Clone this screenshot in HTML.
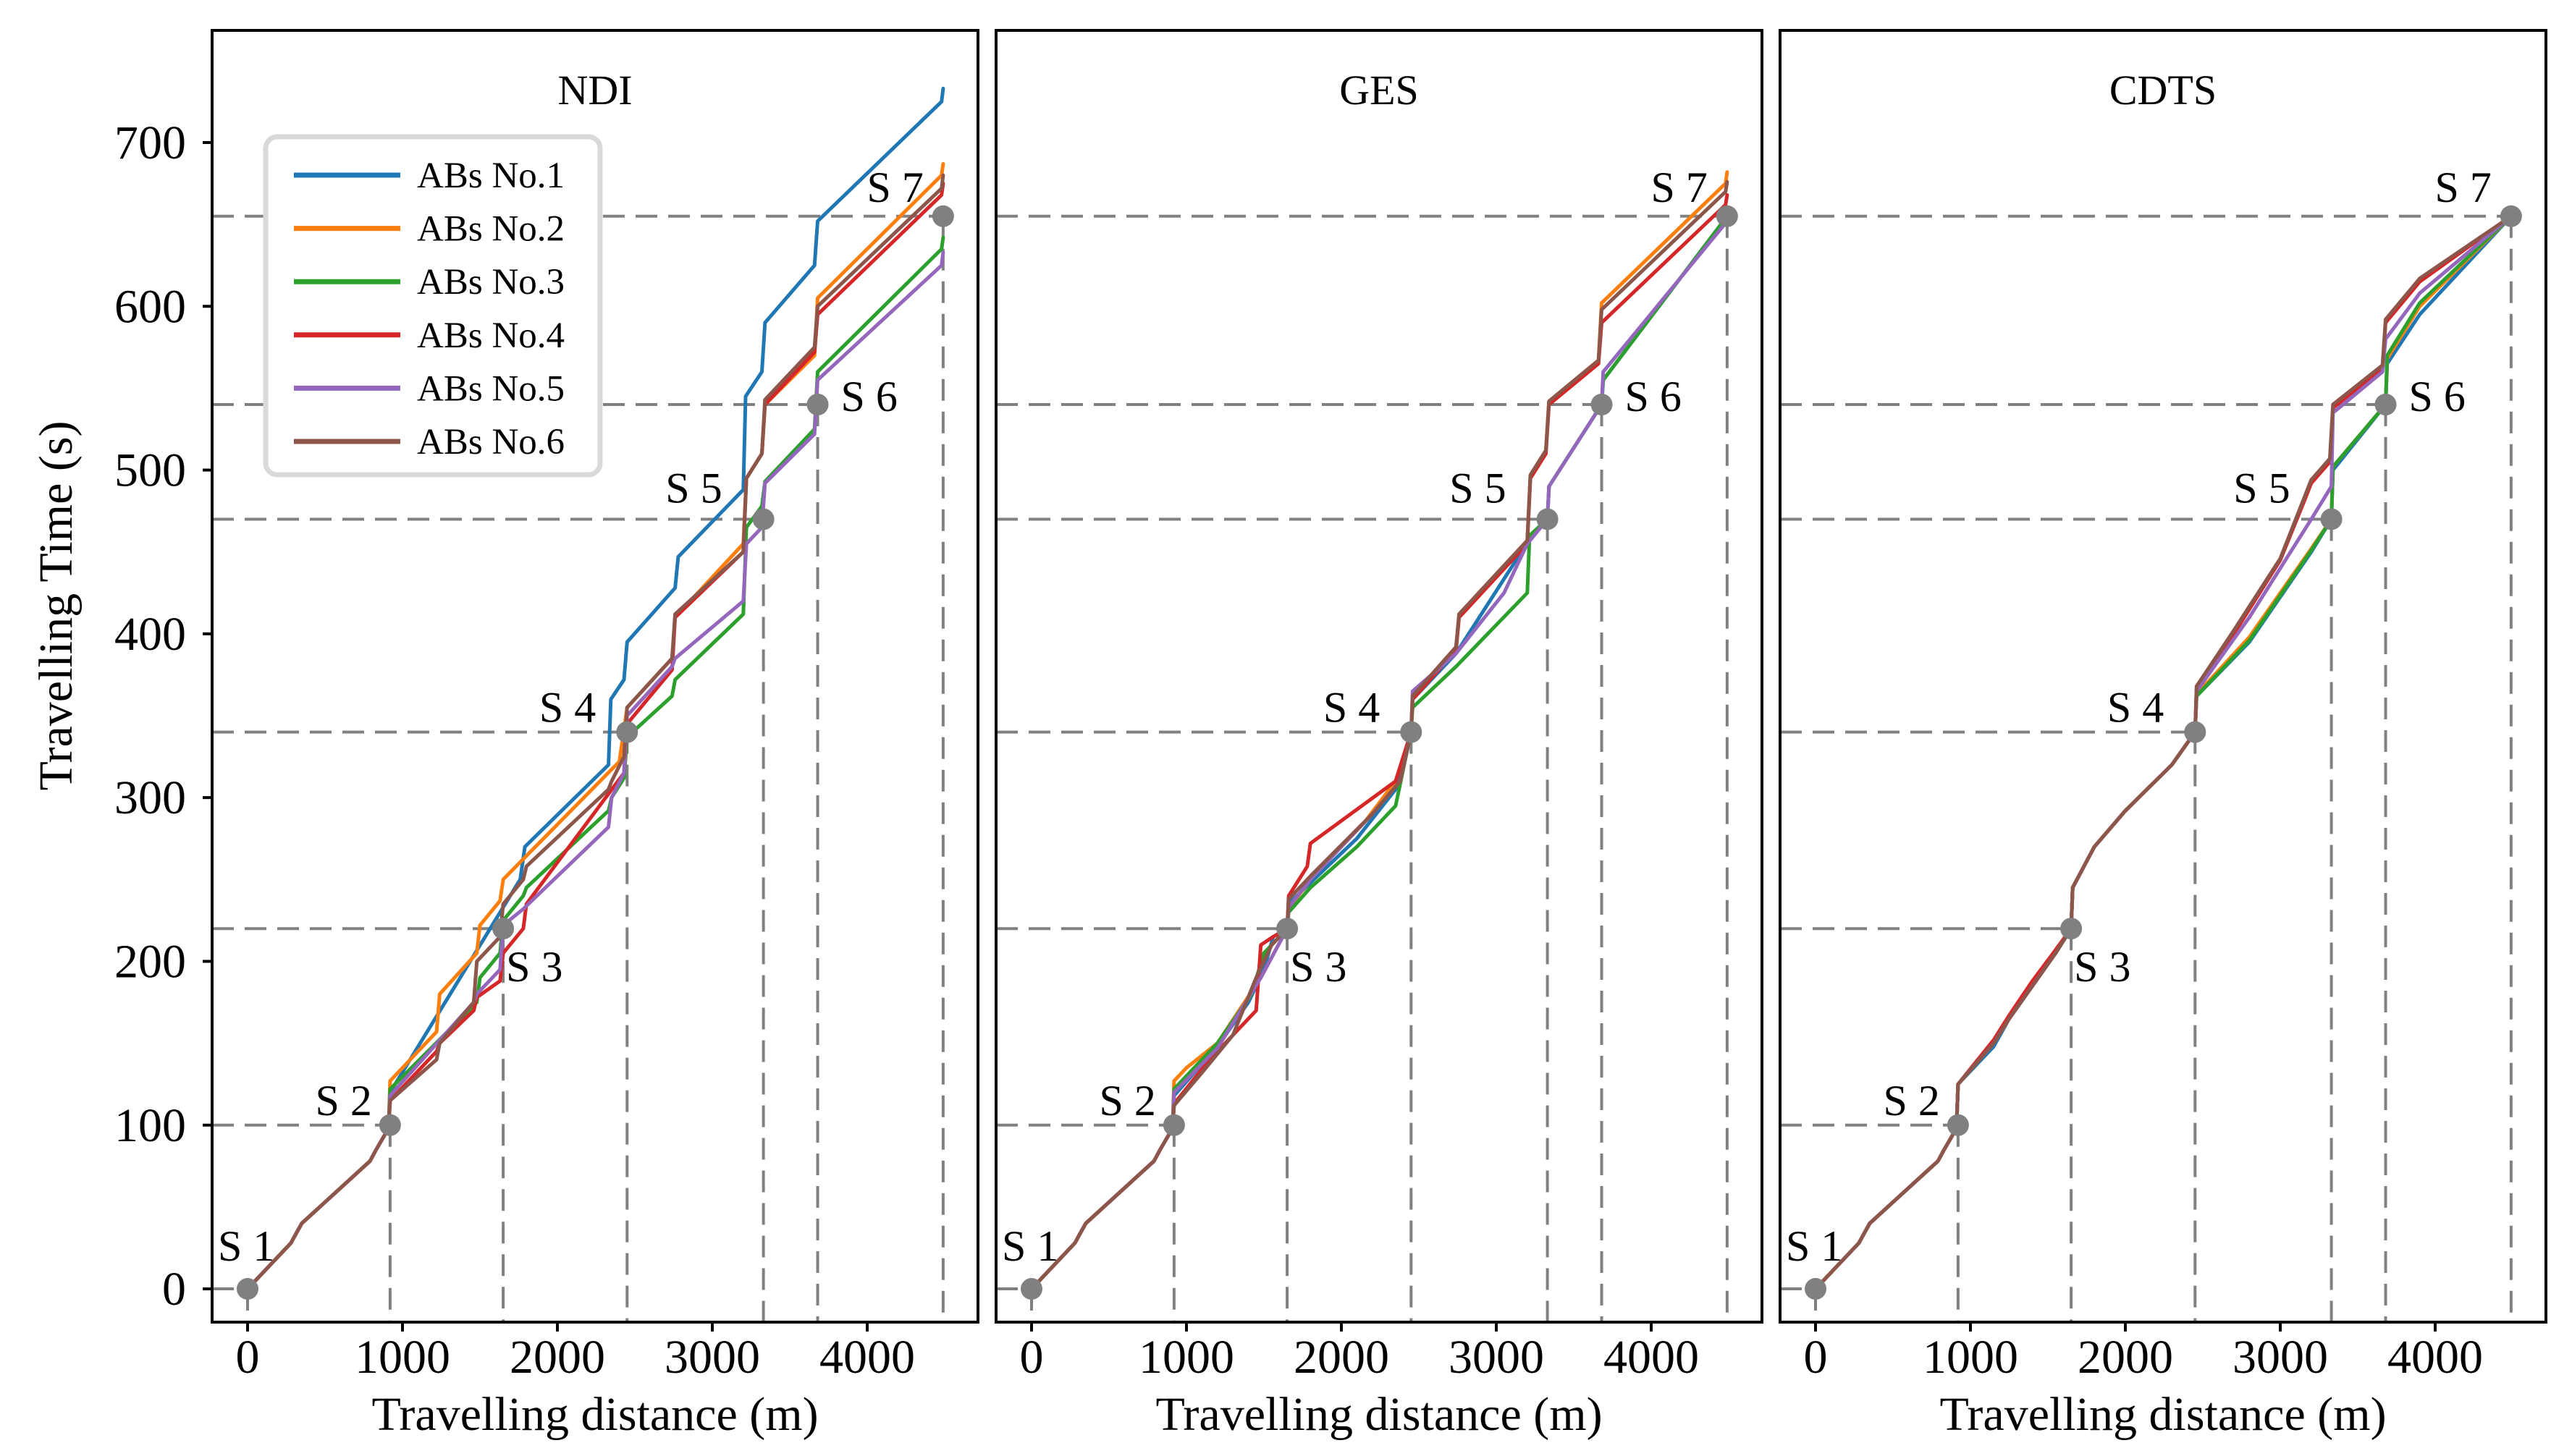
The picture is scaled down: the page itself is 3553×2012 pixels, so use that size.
<!DOCTYPE html>
<html><head><meta charset="utf-8"><style>
html,body{margin:0;padding:0;background:#fff}
svg{display:block}
text{font-family:"Liberation Serif",serif;fill:#000}
</style></head><body>
<svg id="chart" width="3553" height="2012" viewBox="0 0 3553 2012" xmlns="http://www.w3.org/2000/svg"></svg>
<script>
const panelTitles = ["NDI","GES","CDTS"];
const seriesNames = ["ABs No.1","ABs No.2","ABs No.3","ABs No.4","ABs No.5","ABs No.6"];
const seriesColors = ["#1f77b4","#ff7f0e","#2ca02c","#d62728","#9467bd","#8c564b"];
const stationNames = ["S 1","S 2","S 3","S 4","S 5","S 6","S 7"];
const stationDist = [0,920,1650,2450,3330,3680,4490];
const stationTime = [0,100,220,340,470,540,655];
const xTicks = [0,1000,2000,3000,4000];
const yTicks = [0,100,200,300,400,500,600,700];
const common = [[0,0],[280,28],[320,35],[350,40],[790,78],[830,85],[910,98]];
const ndiS1 = [[920,120],[1760,250],[1790,270],[2330,320],[2345,360],[2430,372],[2450,395],[2760,428],[2780,447],[3200,488],[3215,545],[3320,560],[3340,590],[3660,625],[3680,652],[4480,725],[4490,733]];
const ndiS2 = [[920,127],[1220,157],[1240,180],[1480,205],[1500,222],[1630,237],[1650,250],[2400,322],[2450,355],[2740,385],[2760,410],[3200,455],[3220,495],[3320,510],[3340,540],[3660,570],[3680,605],[4480,680],[4490,687]];
const ndiS3 = [[920,122],[1480,175],[1500,190],[1630,205],[1650,225],[1780,240],[1800,245],[2330,292],[2350,300],[2430,312],[2450,337],[2740,362],[2760,372],[3200,412],[3220,465],[3320,478],[3340,493],[3660,525],[3680,560],[4480,635],[4490,642]];
const ndiS4 = [[920,115],[1220,145],[1240,150],[1460,170],[1480,178],[1630,188],[1650,205],[1780,220],[1800,235],[2430,315],[2450,345],[2740,378],[2760,410],[3200,450],[3220,495],[3320,510],[3340,540],[3660,572],[3680,595],[4480,668],[4490,675]];
const ndiS5 = [[920,118],[1460,175],[1480,180],[1630,195],[1650,222],[1780,232],[2330,282],[2350,300],[2430,315],[2450,350],[2740,380],[2760,385],[3200,420],[3220,455],[3320,465],[3340,492],[3660,522],[3680,555],[4480,625],[4490,633]];
const ndiS6 = [[920,115],[1220,140],[1240,150],[1460,175],[1480,200],[1630,215],[1650,235],[1780,250],[1800,258],[2330,305],[2350,310],[2430,325],[2450,355],[2740,385],[2760,412],[3200,450],[3220,495],[3320,510],[3340,543],[3660,575],[3680,600],[4480,672],[4490,680]];
const gesS1 = [[920,118],[1200,148],[1400,175],[1500,195],[1560,215],[1650,220],[1660,235],[1800,248],[2100,275],[2350,305],[2450,340],[2460,360],[2740,388],[3230,460],[3330,470],[3340,490],[3680,540],[3690,555],[4490,655]];
const gesS2 = [[920,127],[1000,135],[1200,150],[1480,190],[1650,220],[1660,232],[1800,250],[2150,285],[2350,310],[2450,340],[2460,362],[2740,392],[2760,412],[3200,457],[3220,497],[3320,512],[3340,542],[3660,567],[3680,602],[4480,675],[4490,682]];
const gesS3 = [[920,122],[1200,150],[1420,180],[1500,205],[1650,220],[1660,230],[1800,245],[2100,270],[2350,295],[2450,340],[2460,355],[2740,380],[3200,425],[3215,460],[3330,470],[3340,490],[3680,540],[3690,555],[4490,655]];
const gesS4 = [[920,113],[1150,140],[1450,170],[1480,210],[1560,215],[1650,220],[1660,240],[1780,258],[1800,272],[2350,310],[2450,340],[2460,360],[2740,390],[2760,410],[3200,455],[3220,495],[3320,510],[3340,540],[3660,565],[3680,590],[4480,662],[4490,668]];
const gesS5 = [[920,120],[1200,147],[1480,190],[1650,220],[1660,233],[1800,250],[2200,290],[2380,310],[2450,340],[2460,365],[2740,388],[3050,425],[3200,455],[3330,470],[3340,490],[3680,540],[3690,560],[4490,652]];
const gesS6 = [[920,112],[1100,132],[1300,155],[1450,190],[1550,210],[1650,220],[1660,238],[1800,252],[2200,290],[2380,310],[2450,340],[2460,362],[2740,392],[2760,412],[3200,457],[3220,497],[3320,512],[3340,542],[3660,567],[3680,598],[4480,670],[4490,676]];
const cdtsS1 = [[920,125],[1150,148],[1250,165],[1400,185],[1550,205],[1650,220],[1660,245],[1800,270],[2000,292],[2300,320],[2450,340],[2460,362],[2800,395],[3200,450],[3330,470],[3340,500],[3680,540],[3690,565],[3900,595],[4490,655]];
const cdtsS2 = [[920,125],[1150,150],[1250,165],[1400,186],[1550,207],[1650,220],[1660,245],[1800,270],[2000,292],[2300,320],[2450,340],[2460,363],[2800,398],[3200,452],[3330,470],[3340,502],[3680,540],[3690,568],[3900,600],[4490,655]];
const cdtsS3 = [[920,125],[1150,150],[1250,165],[1400,185],[1550,205],[1650,220],[1660,245],[1800,270],[2000,292],[2300,320],[2450,340],[2460,362],[2800,396],[3200,451],[3330,470],[3340,502],[3680,540],[3690,570],[3900,602],[4490,655]];
const cdtsS4 = [[920,125],[1150,152],[1250,167],[1400,188],[1550,207],[1650,220],[1660,245],[1800,270],[2000,292],[2300,320],[2450,340],[2460,368],[2700,400],[3000,445],[3150,480],[3200,492],[3320,505],[3340,538],[3660,562],[3680,590],[3900,615],[4490,655]];
const cdtsS5 = [[920,125],[1150,150],[1250,165],[1400,185],[1550,205],[1650,220],[1660,245],[1800,270],[2000,292],[2300,320],[2450,340],[2460,365],[2800,410],[3000,440],[3200,470],[3330,490],[3340,535],[3660,560],[3680,580],[3900,608],[4490,655]];
const cdtsS6 = [[920,125],[1150,150],[1250,165],[1400,185],[1550,205],[1650,220],[1660,245],[1800,270],[2000,292],[2300,320],[2450,340],[2460,368],[2700,402],[3000,446],[3150,482],[3200,494],[3320,507],[3340,540],[3660,564],[3680,592],[3900,617],[4490,655]];
const panelSeries = [[ndiS1,ndiS2,ndiS3,ndiS4,ndiS5,ndiS6],[gesS1,gesS2,gesS3,gesS4,gesS5,gesS6],[cdtsS1,cdtsS2,cdtsS3,cdtsS4,cdtsS5,cdtsS6]];

const NS = "http://www.w3.org/2000/svg";
const svg = document.getElementById("chart");
const panelLeft = [293,1376,2459], panelW = 1058, topY = 42, bottomY = 1827;
const xMin = -229, pxPerM = 0.214, yMin = -20.3, pxPerS = 2.263;
function mk(tag, attrs, parent){const e=document.createElementNS(NS,tag);for(const k in attrs)e.setAttribute(k,attrs[k]);(parent||svg).appendChild(e);return e;}
const labelOff = [["start",-41,-39],["end",-25,-14],["start",4,73],["end",-43,-14],["end",-57,-23],["start",32,9],["end",-27,-20]];

for(let p=0;p<3;p++){
  const L = panelLeft[p];
  const sx = d => L + (d - xMin)*pxPerM;
  const sy = t => bottomY - (t - yMin)*pxPerS;
  const g = mk("g",{});
  
  
  for(let i=0;i<stationDist.length;i++){
    const x=sx(stationDist[i]), y=sy(stationTime[i]);
    const h=mk("line",{x1:L,y1:y,x2:x,y2:y,stroke:"#808080","stroke-width":4,"stroke-dasharray":"30 15"},g);
    
    
    const v=mk("line",{x1:x,y1:y,x2:x,y2:bottomY,stroke:"#808080","stroke-width":4,"stroke-dasharray":"30 15"},g);
    
    
  }
  const ser = panelSeries[p];
  for(let s=0;s<ser.length;s++){
    const pts = common.concat(ser[s]).map(q=>sx(q[0]).toFixed(1)+","+sy(q[1]).toFixed(1)).join(" ");
    const pl=mk("polyline",{points:pts,fill:"none",stroke:seriesColors[s],"stroke-width":5,"stroke-linejoin":"round","stroke-linecap":"round"},g);
    
    
  }
  for(let i=0;i<stationDist.length;i++){
    const x=sx(stationDist[i]), y=sy(stationTime[i]);
    const c=mk("circle",{cx:x,cy:y,r:15,fill:"#808080"},g);
    
    
    const o=labelOff[i];
    const t=mk("text",{x:x+o[1],y:y+o[2],"font-size":60,"text-anchor":o[0]},g);
    t.textContent=stationNames[i];
    
    
  }
  const fr=mk("rect",{x:L,y:topY,width:panelW,height:bottomY-topY,fill:"none",stroke:"#000","stroke-width":4},g);
  
  
  for(const v of xTicks){
    const x=sx(v);
    const tk=mk("line",{x1:x,y1:bottomY,x2:x,y2:bottomY+13,stroke:"#000","stroke-width":4},g);
    
    
    const tl=mk("text",{x:x,y:1897,"font-size":66,"text-anchor":"middle"},g);
    tl.textContent=String(v);
    
    
  }
  const xl=mk("text",{x:L+panelW/2,y:1976,"font-size":66,"text-anchor":"middle"},g);
  xl.textContent="Travelling distance (m)";
  
  
  const ti=mk("text",{x:L+panelW/2,y:144,"font-size":58,"text-anchor":"middle"},g);
  ti.textContent=panelTitles[p];
  
  
  if(p===0){
    for(const v of yTicks){
      const y=sy(v);
      const tk=mk("line",{x1:L-13,y1:y,x2:L,y2:y,stroke:"#000","stroke-width":4},g);
      
      
      const tl=mk("text",{x:257,y:y+22,"font-size":66,"text-anchor":"end"},g);
      tl.textContent=String(v);
      
      
    }
    const yl=mk("text",{x:0,y:0,"font-size":66,"text-anchor":"middle",transform:"translate(99,837) rotate(-90)"},g);
    yl.textContent="Travelling Time (s)";
    
    
    const lg=mk("g",{},g);
    
    
    mk("rect",{x:367,y:189,width:462,height:467,rx:16,fill:"#fff",stroke:"#d9d9d9","stroke-width":7},lg);
    for(let s=0;s<seriesNames.length;s++){
      const y=242+s*73.6;
      const ln=mk("line",{x1:406,y1:y,x2:553,y2:y,stroke:seriesColors[s],"stroke-width":7},lg);
      
      
      const lt=mk("text",{x:576,y:y+17,"font-size":51},lg);
      lt.textContent=seriesNames[s];
      
      
    }
  }
}
</script>
</body></html>
